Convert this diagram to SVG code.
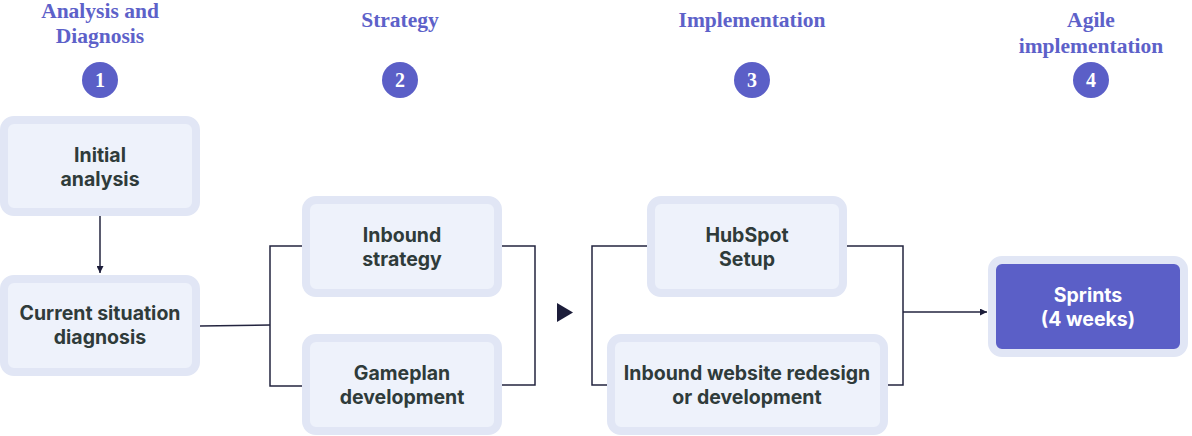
<svg xmlns="http://www.w3.org/2000/svg" width="1192" height="436" viewBox="0 0 1192 436">
<style>
.hdr{font-family:"Liberation Serif","DejaVu Serif",serif;font-weight:bold;font-size:21.5px;fill:#5d61c9;text-anchor:middle}
.num{font-family:"Liberation Serif","DejaVu Serif",serif;font-weight:bold;font-size:20px;fill:#ffffff;text-anchor:middle}
.badge{fill:#5b5fc7}
.box{fill:#eef2fb;stroke:#e1e6f5;stroke-width:8}
.boxd{fill:#5b5fc7;stroke:#e1e6f5;stroke-width:8}
.lbl{font-family:Inter,"Liberation Sans",sans-serif;font-weight:bold;font-size:19.5px;fill:#2f3b3a;text-anchor:middle}
.lblw{font-family:Inter,"Liberation Sans",sans-serif;font-weight:bold;font-size:19.5px;fill:#ffffff;text-anchor:middle}
.ln{fill:none;stroke:#23243f;stroke-width:1.5}
</style>
<defs>
<marker id="ah" viewBox="0 0 10 10" refX="10" refY="5" markerWidth="7" markerHeight="7" markerUnits="userSpaceOnUse" orient="auto">
<path d="M0,0 L10,5 L0,10 Z" fill="#1c1d3a"/>
</marker>
</defs>

<g id="headers">
<text class="hdr" x="100" y="18">Analysis and</text>
<text class="hdr" x="100" y="43">Diagnosis</text>
<circle class="badge" cx="100" cy="80" r="18"/>
<text class="num" x="100" y="87">1</text>
<text class="hdr" x="400" y="27">Strategy</text>
<circle class="badge" cx="400" cy="80" r="18"/>
<text class="num" x="400" y="87">2</text>
<text class="hdr" x="752" y="27">Implementation</text>
<circle class="badge" cx="752" cy="80" r="18"/>
<text class="num" x="752" y="87">3</text>
<text class="hdr" x="1091" y="27">Agile</text>
<text class="hdr" x="1091" y="53">implementation</text>
<circle class="badge" cx="1091" cy="80" r="18"/>
<text class="num" x="1091" y="87">4</text>
</g>

<g id="connectors">
<line class="ln" x1="100" y1="216" x2="100" y2="273" marker-end="url(#ah)"/>
<line class="ln" x1="200" y1="326" x2="270" y2="325"/>
<path class="ln" d="M302,246 H270 V386 H302"/>
<path class="ln" d="M502,246 H535 V385 H502"/>
<polygon points="557,303 573,312.5 557,322" fill="#1c1d3a"/>
<path class="ln" d="M647,246 H592 V385 H607"/>
<path class="ln" d="M847,246 H903 V385 H888"/>
<line class="ln" x1="903" y1="312" x2="987" y2="312" marker-end="url(#ah)"/>
</g>

<g id="node-initial-analysis">
<rect class="box" x="4" y="120" width="192" height="92" rx="10"/>
<text class="lbl" x="100" y="162">Initial</text>
<text class="lbl" x="100" y="186">analysis</text>
</g>
<g id="node-current-situation">
<rect class="box" x="4" y="279" width="192" height="93" rx="10"/>
<text class="lbl" x="100" y="320">Current situation</text>
<text class="lbl" x="100" y="344">diagnosis</text>
</g>
<g id="node-inbound-strategy">
<rect class="box" x="306" y="200" width="192" height="93" rx="10"/>
<text class="lbl" x="402" y="242">Inbound</text>
<text class="lbl" x="402" y="266">strategy</text>
</g>
<g id="node-gameplan">
<rect class="box" x="306" y="338" width="192" height="93" rx="10"/>
<text class="lbl" x="402" y="380">Gameplan</text>
<text class="lbl" x="402" y="404">development</text>
</g>
<g id="node-hubspot">
<rect class="box" x="651" y="200" width="192" height="93" rx="10"/>
<text class="lbl" x="747" y="242">HubSpot</text>
<text class="lbl" x="747" y="266">Setup</text>
</g>
<g id="node-website">
<rect class="box" x="611" y="338" width="273" height="93" rx="10"/>
<text class="lbl" x="747" y="380">Inbound website redesign</text>
<text class="lbl" x="747" y="404">or development</text>
</g>
<g id="node-sprints">
<rect class="boxd" x="992" y="260" width="192" height="93" rx="10"/>
<text class="lblw" x="1088" y="302">Sprints</text>
<text class="lblw" x="1088" y="326">(4 weeks)</text>
</g>
</svg>
